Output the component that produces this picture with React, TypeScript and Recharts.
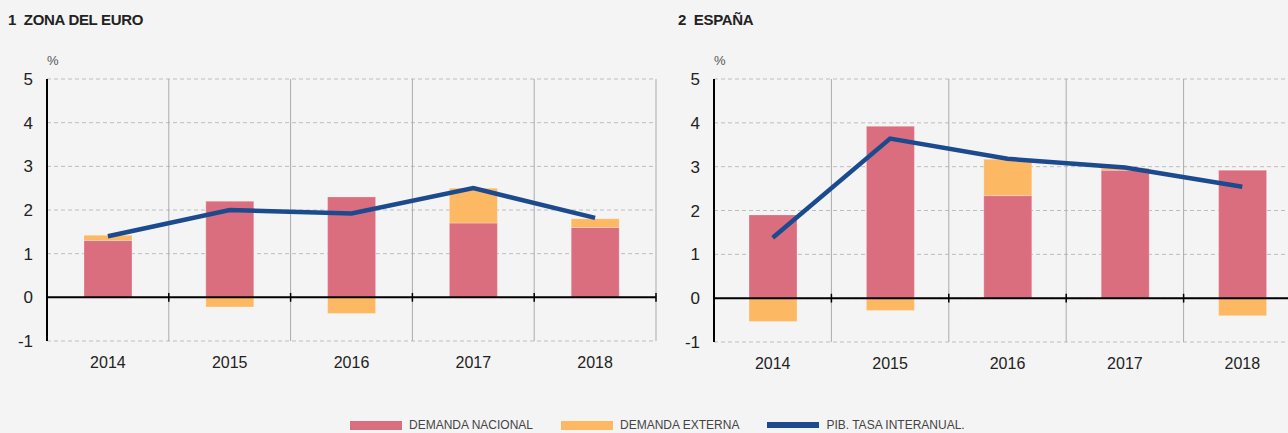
import React from 'react';
import { ComposedChart, Bar, Line, XAxis, YAxis, CartesianGrid, ReferenceLine } from 'recharts';

const years = ['2014', '2015', '2016', '2017', '2018'];

const euroNacional = [1.3, 2.2, 2.3, 1.7, 1.6];
const euroExterna = [0.12, -0.22, -0.37, 0.8, 0.2];
const euroPib = [1.4, 2.0, 1.92, 2.5, 1.82];

const espNacional = [1.9, 3.92, 2.34, 2.92, 2.92];
const espExterna = [-0.53, -0.28, 0.83, 0.05, -0.4];
const espPib = [1.38, 3.64, 3.18, 2.98, 2.54];

const yTicks = [-1, 0, 1, 2, 3, 4, 5];
const stubTicks = [-1, 5];

const legendItems = [
  { name: 'DEMANDA NACIONAL', color: '#db6e7e', thin: false },
  { name: 'DEMANDA EXTERNA', color: '#fdb863', thin: false },
  { name: 'PIB. TASA INTERANUAL.', color: '#1b4a8e', thin: true },
];

const RED = '#db6e7e';
const ORANGE = '#fdb863';
const BLUE = '#1b4a8e';
const numFont = "'Liberation Sans', Arial, sans-serif";

const build = (nac: number[], ext: number[], pib: number[]) =>
  years.map((y, i) => ({ year: y, nacional: nac[i], externa: ext[i], pib: pib[i] }));

const euroData = build(euroNacional, euroExterna, euroPib);
const espData = build(espNacional, espExterna, espPib);

// category boundaries: start of every band plus end of the last one
const bounds: { x: string; pos: 'start' | 'end' }[] = [
  ...years.slice(1).map(y => ({ x: y, pos: 'start' as const })),
  { x: years[years.length - 1], pos: 'end' as const },
];

type PanelProps = { data: any[]; marginRight: number; xHeight: number };

const Panel: React.FC<PanelProps> = ({ data, marginRight, xHeight }) => (
  <ComposedChart
    width={680}
    height={400}
    data={data}
    stackOffset="sign"
    margin={{ top: 79, right: marginRight, left: 0, bottom: 0 }}
  >
    <CartesianGrid vertical={false} stroke="#bdbdbd" strokeDasharray="4 3" />
    <XAxis
      dataKey="year"
      axisLine={false}
      tickLine={false}
      height={xHeight}
      tickMargin={10}
      tick={{ fill: '#222', fontSize: 16, fontFamily: numFont }}
    />
    <YAxis
      yAxisId="stub"
      mirror
      width={0}
      domain={[-1, 5]}
      ticks={stubTicks}
      interval={0}
      tickSize={5}
      axisLine={false}
      tickLine={{ stroke: '#000', strokeWidth: 2 }}
      tickFormatter={() => ''}
    />
    <YAxis
      domain={[-1, 5]}
      ticks={yTicks}
      width={47}
      interval={0}
      tickLine={false}
      tickSize={0}
      tickMargin={14}
      axisLine={{ stroke: '#000', strokeWidth: 2 }}
      tick={{ fill: '#222', fontSize: 17, fontFamily: numFont }}
    />
    {bounds.map(b => (
      <ReferenceLine key={`v${b.x}${b.pos}`} x={b.x} position={b.pos} stroke="#ababab" strokeWidth={1} ifOverflow="visible" />
    ))}
    <Bar dataKey="nacional" stackId="a" fill={RED} stroke="rgba(255,255,255,0.25)" barSize={48} isAnimationActive={false} />
    <Bar dataKey="externa" stackId="a" fill={ORANGE} stroke="rgba(255,255,255,0.25)" barSize={48} isAnimationActive={false} />
    <ReferenceLine y={0} stroke="#000" strokeWidth={2} />
    {bounds.map(b => (
      <ReferenceLine
        key={`t${b.x}${b.pos}`}
        position={b.pos}
        segment={[{ x: b.x, y: -0.1 }, { x: b.x, y: 0.1 }]}
        stroke="#000"
        strokeWidth={1.5}
        ifOverflow="visible"
      />
    ))}
    <Line
      dataKey="pib"
      type="linear"
      stroke={BLUE}
      strokeWidth={4.5}
      dot={false}
      activeDot={false}
      isAnimationActive={false}
    />
  </ComposedChart>
);

const titleStyle: React.CSSProperties = {
  position: 'absolute',
  top: 11,
  fontSize: 15,
  fontWeight: 'bold',
  color: '#222',
  whiteSpace: 'pre',
  letterSpacing: -0.3,
};

export default function App() {
  return (
    <div
      style={{
        position: 'absolute',
        left: 0,
        top: 0,
        width: 1288,
        height: 433,
        overflow: 'hidden',
        background: '#f4f4f4',
        fontFamily: numFont,
      }}
    >
      <div style={{ ...titleStyle, left: 8 }}>1  ZONA DEL EURO</div>
      <div style={{ ...titleStyle, left: 678 }}>2  ESPAÑA</div>
      <div style={{ position: 'absolute', left: 47, top: 53, fontSize: 13, color: '#555' }}>%</div>
      <div style={{ position: 'absolute', left: 714, top: 53, fontSize: 13, color: '#555' }}>%</div>

      <div style={{ position: 'absolute', left: 0, top: 0 }}>
        <Panel data={euroData} marginRight={24} xHeight={59} />
      </div>
      <div style={{ position: 'absolute', left: 667, top: 0 }}>
        <Panel data={espData} marginRight={46} xHeight={58} />
      </div>

      <div style={{ position: 'absolute', left: 350, top: 418, display: 'flex', alignItems: 'center', fontSize: 12, color: '#444' }}>
        {legendItems.map((item, i) => (
          <div key={item.name} style={{ display: 'flex', alignItems: 'center', marginRight: i < 2 ? 28 : 0 }}>
            <div style={{ width: 52, height: item.thin ? 6 : 9, background: item.color, marginRight: 7 }} />
            <span>{item.name}</span>
          </div>
        ))}
      </div>
    </div>
  );
}
